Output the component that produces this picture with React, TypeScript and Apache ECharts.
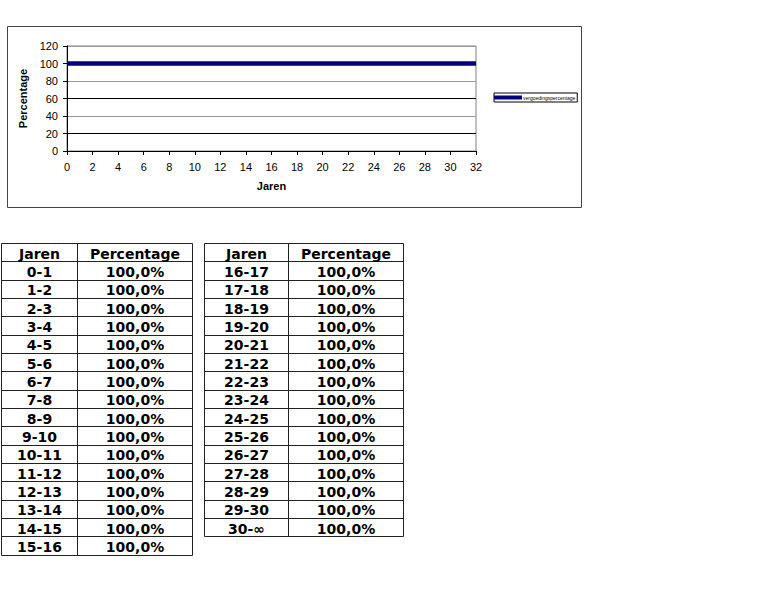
import React, { useEffect, useRef } from "react";
import * as echarts from "echarts";

// ---- data ----
const seriesName = "vergoedingspercentage";
const jarenLabels = [
  "0-1", "1-2", "2-3", "3-4", "4-5", "5-6", "6-7", "7-8", "8-9", "9-10",
  "10-11", "11-12", "12-13", "13-14", "14-15", "15-16",
  "16-17", "17-18", "18-19", "19-20", "20-21", "21-22", "22-23", "23-24",
  "24-25", "25-26", "26-27", "27-28", "28-29", "29-30", "30-∞",
];
const startYears = [
  0, 1, 2, 3, 4, 5, 6, 7, 8, 9, 10, 11, 12, 13, 14, 15,
  16, 17, 18, 19, 20, 21, 22, 23, 24, 25, 26, 27, 28, 29, 30,
];
const percentages = [
  100, 100, 100, 100, 100, 100, 100, 100, 100, 100, 100, 100, 100, 100, 100, 100,
  100, 100, 100, 100, 100, 100, 100, 100, 100, 100, 100, 100, 100, 100, 100,
];
const tableHeaders = ["Jaren", "Percentage"];
const xMax = 32;
const yMax = 120;
const firstTableRows = 16;

const fmtPct = (v: number) => v.toFixed(1).replace(".", ",") + "%";

function buildTable(
  rows: { j: string; p: string }[],
  x0: number,
  xDiv: number,
  x1: number,
  top: number,
  rowH: number
) {
  const els: any[] = [];
  const n = rows.length + 1;
  const lineY = (i: number) => Math.round(top + rowH * i) - 0.5;
  const stroke = "#222";
  for (let i = 0; i <= n; i++) {
    els.push({
      type: "line",
      shape: { x1: x0, y1: lineY(i), x2: x1, y2: lineY(i) },
      style: { stroke, lineWidth: 1 },
    });
  }
  [x0, xDiv, x1].forEach((x) => {
    els.push({
      type: "line",
      shape: { x1: x, y1: lineY(0), x2: x, y2: lineY(n) },
      style: { stroke, lineWidth: 1 },
    });
  });
  const c1 = (x0 + xDiv) / 2;
  const c2 = (xDiv + x1) / 2;
  const all = [{ j: tableHeaders[0], p: tableHeaders[1] }, ...rows];
  all.forEach((r, i) => {
    const cy = top + rowH * (i + 0.5) + 0.5;
    [
      [r.j, c1],
      [r.p, c2],
    ].forEach(([t, cx]) => {
      els.push({
        type: "text",
        style: {
          text: t as string,
          x: cx as number,
          y: cy,
          align: "center",
          verticalAlign: "middle",
          textAlign: "center",
          textVerticalAlign: "middle",
          font: 'bold 14px "DejaVu Sans"',
          fill: "#000",
        },
      });
    });
  });
  return els;
}

export default function App() {
  const ref = useRef<HTMLDivElement>(null);
  useEffect(() => {
    if (!ref.current) return;
    const chart = echarts.init(ref.current, null, { renderer: "svg" });

    const rows = jarenLabels.map((j, i) => ({ j, p: fmtPct(percentages[i]) }));
    const lineData = startYears.map((y, i) => [y, percentages[i]]);
    lineData.push([xMax, percentages[percentages.length - 1]]);

    const rowH = 18.33;
    const graphics: any[] = [
      {
        type: "rect",
        shape: { x: 7.5, y: 26.5, width: 574, height: 181 },
        style: { fill: "none", stroke: "#444", lineWidth: 1 },
      },
      ...buildTable(rows.slice(0, firstTableRows), 1.5, 77.5, 192.5, 244, rowH),
      ...buildTable(rows.slice(firstTableRows), 204.5, 288.5, 403.5, 244, rowH),
    ];

    const font = '"Liberation Sans", Arial, sans-serif';
    chart.setOption({
      animation: false,
      backgroundColor: "#fff",
      textStyle: { fontFamily: font },
      grid: {
        left: 67,
        top: 46,
        width: 409,
        height: 105,
        show: true,
        borderColor: "#808080",
        borderWidth: 1,
        backgroundColor: "transparent",
      },
      legend: {
        left: 494,
        top: 93,
        orient: "vertical",
        data: [{ name: seriesName, icon: "rect" }],
        itemWidth: 28,
        itemHeight: 4,
        itemGap: 0,
        padding: [2, 2, 2, 0],
        borderColor: "#000",
        borderWidth: 1,
        textStyle: { fontSize: 5, color: "#000", padding: [0, 0, 0, -4], fontFamily: font },
      },
      xAxis: {
        type: "value",
        min: 0,
        max: xMax,
        interval: 2,
        name: "Jaren",
        nameLocation: "middle",
        nameGap: 29,
        nameTextStyle: { fontSize: 11, fontWeight: "bold", color: "#000", fontFamily: font },
        axisLine: { show: true, lineStyle: { color: "#000", width: 1 } },
        axisTick: { show: true, inside: false, length: 4, lineStyle: { color: "#000" } },
        axisLabel: { fontSize: 11, color: "#000", margin: 10, fontFamily: font },
        splitLine: { show: false },
      },
      yAxis: {
        type: "value",
        min: 0,
        max: yMax,
        interval: 20,
        name: "Percentage",
        nameLocation: "middle",
        nameRotate: 90,
        nameGap: 33,
        nameTextStyle: { fontSize: 11, fontWeight: "bold", color: "#000", fontFamily: font },
        axisLine: { show: true, lineStyle: { color: "#000", width: 1 } },
        axisTick: { show: true, inside: false, length: 4, lineStyle: { color: "#000" } },
        axisLabel: { fontSize: 11, color: "#000", margin: 9, fontFamily: font },
        splitLine: {
          show: true,
          lineStyle: {
            color: ["#000", "#000", "#999", "#000", "#999", "#000", "#999"],
            width: 1,
          },
        },
      },
      series: [
        {
          name: seriesName,
          type: "line",
          data: lineData,
          showSymbol: false,
          symbol: "none",
          lineStyle: { color: "#000080", width: 4.5 },
          itemStyle: { color: "#000080" },
        },
      ],
      graphic: graphics,
    });
    return () => chart.dispose();
  }, []);
  return (
    <div
      ref={ref}
      style={{ position: "absolute", left: 0, top: 0, width: 768, height: 614 }}
    />
  );
}
